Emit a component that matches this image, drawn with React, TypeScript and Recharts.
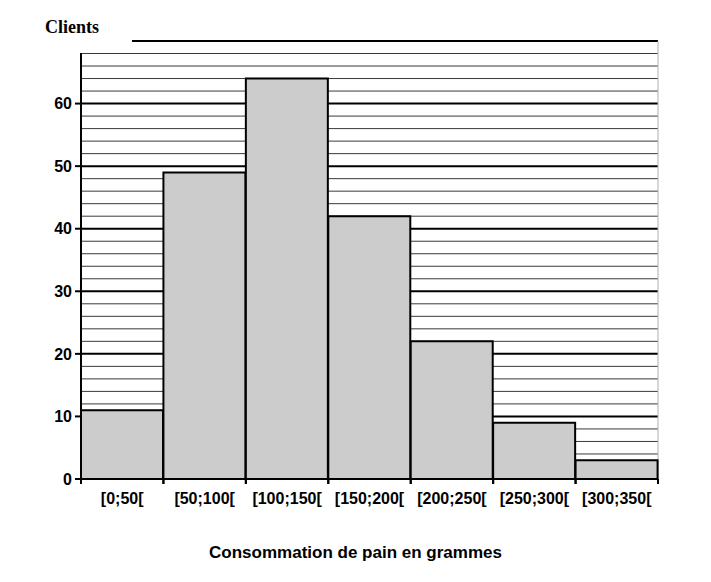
import { BarChart, Bar, XAxis, YAxis, CartesianGrid } from "recharts";

// ─── DATA ─────────────────────────────────────────────────────────────────────

const classes = ["[0;50[", "[50;100[", "[100;150[", "[150;200[", "[200;250[", "[250;300[", "[300;350["];
const clients = [11, 49, 64, 42, 22, 9, 3];

const yTicks = [0, 10, 20, 30, 40, 50, 60];
const majorLines = [10, 20, 30, 40, 50, 60, 70];
const minorLines = [2, 4, 6, 8, 12, 14, 16, 18, 22, 24, 26, 28, 32, 34, 36, 38, 42, 44, 46, 48, 52, 54, 56, 58, 62, 64, 66, 68];

const data = classes.map((c, i) => ({ classe: c, clients: clients[i] }));

const W = 711;
const H = 582;

// category label + short tick marks on both edges of the class
function ClassTick({ x, y, payload }: any) {
    const half = payload.offset ?? 0;
    return (
        <g>
            <line x1={x - half} x2={x - half} y1={y - 14} y2={y - 9} stroke="#000" strokeWidth={2} />
            <line x1={x + half} x2={x + half} y1={y - 14} y2={y - 9} stroke="#000" strokeWidth={2} />
            <text x={x} y={y} dy="0.71em" textAnchor="middle" fill="#000" fontSize={16} fontWeight={700} fontFamily="Liberation Sans">
                {payload.value}
            </text>
        </g>
    );
}

export default function App() {
    return (
        <div style={{ position: "absolute", left: 0, top: 0, width: W, height: H, background: "#fff" }}>
            <BarChart
                width={W}
                height={H}
                data={data}
                barCategoryGap={0}
                margin={{ top: 41, right: 53, left: 0, bottom: 73 }}
            >
                {/* minor grid every 2, major grid every 10 */}
                <CartesianGrid vertical={false} horizontalValues={minorLines} stroke="#3a3a3a" strokeWidth={1} />
                <CartesianGrid vertical={false} horizontalValues={majorLines} stroke="#000" strokeWidth={2} />
                <CartesianGrid
                    horizontal={false}
                    stroke="#b0b0b0"
                    strokeWidth={1}
                    verticalCoordinatesGenerator={({ offset }: any) => [offset.left + offset.width]}
                />
                <XAxis
                    dataKey="classe"
                    height={30}
                    tickLine={false}
                    tickSize={6}
                    tickMargin={8}
                    interval={0}
                    axisLine={{ stroke: "#000", strokeWidth: 2 }}
                    tick={<ClassTick />}
                />
                <YAxis
                    width={81}
                    domain={[0, 70]}
                    ticks={yTicks}
                    interval={0}
                    tickSize={6}
                    tickMargin={3}
                    axisLine={{ stroke: "#000", strokeWidth: 2 }}
                    tickLine={{ stroke: "#000", strokeWidth: 2 }}
                    tick={{ fill: "#000", fontSize: 16, fontWeight: 700, fontFamily: "Liberation Sans" }}
                />
                <Bar dataKey="clients" fill="#cccccc" stroke="#000" strokeWidth={2} isAnimationActive={false} />
            </BarChart>

            {/* white patch behind the "Clients" label, over the top-left grid */}
            <div style={{ position: "absolute", left: 78, top: 38, width: 54, height: 15, background: "#fff" }} />

            <svg width={W} height={H} style={{ position: "absolute", left: 0, top: 0, pointerEvents: "none" }}>
                <text x={45} y={33} fontFamily="Liberation Serif" fontWeight={700} fontSize={18} fill="#000">
                    Clients
                </text>
                <text x={W / 2} y={558} textAnchor="middle" fontFamily="Liberation Sans" fontWeight={700} fontSize={17} fill="#000">
                    Consommation de pain en grammes
                </text>
            </svg>
        </div>
    );
}
